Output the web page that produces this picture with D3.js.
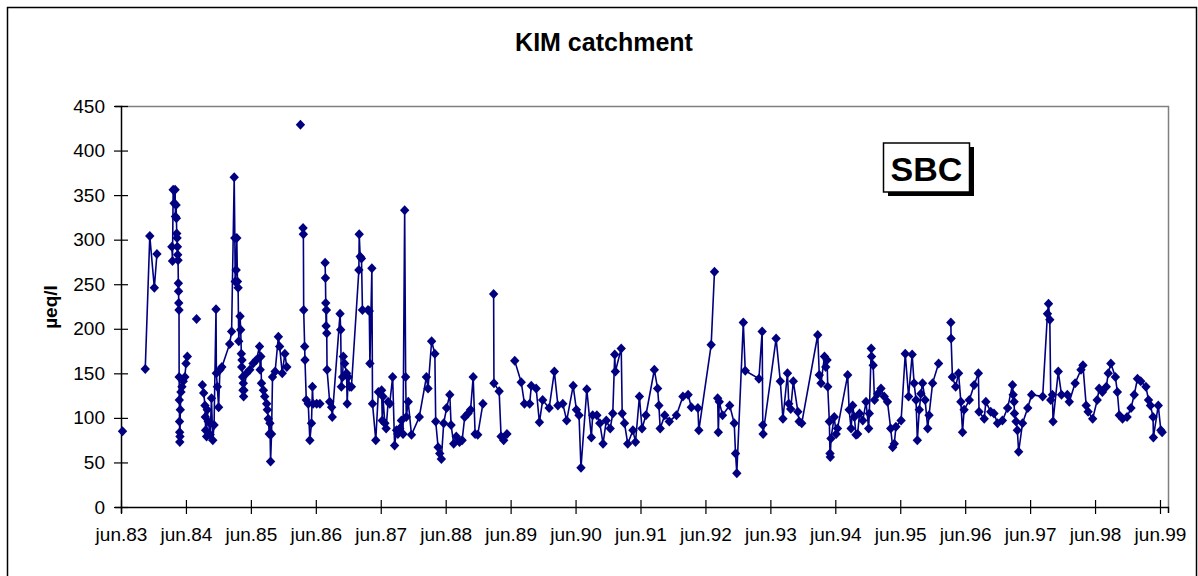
<!DOCTYPE html>
<html>
  <head>
    <meta charset="utf-8">
    <style>
      body {
        margin: 0;
        background-color: white;
      }
      text {
        font-family: "Liberation Sans", Arial, sans-serif;
      }
    </style>
    <script src="https://d3js.org/d3.v7.min.js"></script>
  </head>
  <body>
    <script>
    var width = 1198;
    var height = 576;

    var title = "KIM catchment";
    var yLabel = "µeq/l";
    var seriesName = "SBC";
    var yTicks = [0, 50, 100, 150, 200, 250, 300, 350, 400, 450];
    var xTickYears = [1983, 1984, 1985, 1986, 1987, 1988, 1989, 1990, 1991,
                      1992, 1993, 1994, 1995, 1996, 1997, 1998, 1999];

    // sample dates as decimal years, null = break in the line
    var dates = [
      1983.44, null, 1983.79, 1983.86, 1983.93, 1983.97, null,
      1984.200, 1984.210, 1984.220, 1984.235, 1984.250, 1984.255, 1984.265, 1984.270, 1984.275, 1984.280,
      1984.285, 1984.290, 1984.295, 1984.300, 1984.303, 1984.306, 1984.310, 1984.312, 1984.315, 1984.318,
      1984.320, 1984.322, 1984.325, 1984.330, 1984.340, 1984.355, 1984.375, 1984.400, 1984.418, 1984.438,
      null, 1984.58, null,
      1984.67, 1984.69, 1984.71, 1984.715, 1984.72, 1984.735, 1984.745, 1984.76, 1984.79, 1984.81,
      1984.83, 1984.85, 1984.88, 1984.885, 1984.90, 1984.92, 1984.94, 1984.97, 1985.09, 1985.12,
      1985.16, 1985.17, 1985.175, 1985.19, 1985.20, 1985.21, 1985.22, 1985.23, 1985.25, 1985.26,
      1985.27, 1985.275, 1985.28, 1985.29, 1985.295, 1985.30, 1985.305, 1985.31, 1985.35, 1985.40,
      1985.45, 1985.50, 1985.55, 1985.56, 1985.57, 1985.58, 1985.61, 1985.63, 1985.66, 1985.67,
      1985.685, 1985.70, 1985.71, 1985.72, 1985.735, 1985.75, 1985.79, 1985.84, 1985.86, 1985.90,
      1985.94, 1985.97, null, 1986.18, null,
      1986.22, 1986.225, 1986.23, 1986.245, 1986.25, 1986.27, 1986.30, 1986.325, 1986.35, 1986.365,
      1986.375, 1986.43, 1986.48, null,
      1986.56, 1986.565, 1986.57, 1986.575, 1986.58, 1986.585, 1986.59, 1986.63, 1986.66, 1986.67,
      1986.79, 1986.80, 1986.81, 1986.83, 1986.84, 1986.86, 1986.89, 1986.90, 1986.915, 1986.94,
      1986.965, 1987.08, 1987.085, 1987.10, 1987.12, 1987.135, 1987.22, 1987.24, 1987.25, 1987.28,
      1987.29, 1987.34, 1987.38, 1987.43, 1987.44, 1987.45, 1987.48, 1987.50, 1987.53, 1987.555,
      1987.60, 1987.63, 1987.66, 1987.68, 1987.71, 1987.735, 1987.76, 1987.785, 1987.80, 1987.81,
      1987.84, 1987.89, 1988.01, 1988.12, 1988.145, 1988.20, 1988.25, 1988.263, 1988.30, 1988.325,
      1988.35, 1988.386, 1988.43, 1988.48, 1988.50, 1988.54, 1988.58, 1988.63, 1988.67, 1988.71,
      1988.76, 1988.80, 1988.84, 1988.87, 1988.91, 1988.99, null,
      1989.155, 1989.16, 1989.24, 1989.27, 1989.31, 1989.36, null,
      1989.48, 1989.58, 1989.63, 1989.71, 1989.735, 1989.81, 1989.86, 1989.91, 1990.01, 1990.09,
      1990.145, 1990.22, 1990.28, 1990.38, 1990.43, 1990.47, 1990.50, 1990.59, 1990.66, 1990.68,
      1990.745, 1990.79, 1990.84, 1990.89, 1990.95, 1990.99, 1991.02, 1991.03, 1991.12, 1991.135,
      1991.17, 1991.22, 1991.30, 1991.34, 1991.40, 1991.44, 1991.50, 1991.63, 1991.68, 1991.70,
      1991.72, 1991.79, 1991.86, 1991.97, 1992.07, 1992.15, 1992.20, 1992.30, 1992.315, 1992.505,
      1992.556, null,
      1992.605, 1992.615, 1992.63, 1992.68, 1992.79, 1992.86, 1992.88, 1992.90, 1993.00, 1993.03,
      1993.24, 1993.29, 1993.30, 1993.305, 1993.505, 1993.57, 1993.61, 1993.68, 1993.70, 1993.73,
      1993.77, 1993.84, 1993.86, 1993.90, 1994.146, 1994.17, 1994.197, 1994.25, 1994.27, 1994.29,
      1994.30, 1994.325, 1994.335, 1994.34, 1994.35, 1994.40, 1994.43, 1994.45, 1994.607, 1994.63,
      1994.66, 1994.684, 1994.71, 1994.735, 1994.76, 1994.79, 1994.84, 1994.89, 1994.93, 1994.94,
      1994.97, 1994.975, 1995.00, 1995.02, 1995.07, 1995.12, 1995.17, 1995.22, 1995.27, 1995.30,
      1995.325, 1995.35, 1995.43, 1995.494, 1995.545, 1995.60, 1995.63, 1995.66, 1995.68, 1995.71,
      1995.735, 1995.76, 1995.80, 1995.84, 1995.86, 1995.915, 1996.007, null,
      1996.196, 1996.20, 1996.22, 1996.27, 1996.315, 1996.35, 1996.376, 1996.40, 1996.48, 1996.555,
      1996.62, 1996.63, 1996.71, 1996.735, 1996.81, 1996.86, 1996.915, 1996.99, 1997.07, 1997.145,
      1997.155, 1997.17, 1997.175, 1997.20, 1997.22, 1997.24, 1997.30, 1997.38, 1997.44, 1997.61,
      1997.684, 1997.70, 1997.72, 1997.735, 1997.76, 1997.77, 1997.85, 1997.90, 1997.99, 1998.02,
      1998.11, 1998.20, 1998.23, 1998.28, 1998.31, 1998.38, 1998.45, 1998.48, 1998.53, 1998.59,
      1998.62, 1998.66, 1998.73, 1998.76, 1998.79, 1998.84, 1998.91, 1998.97, 1999.02, 1999.07,
      1999.12, 1999.20, 1999.24, 1999.27, 1999.31, 1999.315, 1999.39, 1999.43, 1999.45
    ];

    // SBC in µeq/l, same order as dates
    var sbc = [
      85, null, 155, 304, 246, 284, null,
      292, 276, 356, 341, 356, 326, 339, 324, 307, 302,
      292, 283, 277, 251, 242, 229, 221, 146, 120, 96,
      84, 73, 79, 109, 129, 135, 141, 146, 161, 169,
      null, 211, null,
      137, 128, 114, 101, 86, 79, 109, 96, 81, 122,
      75, 92, 222, 150, 135, 112, 154, 157, 183, 197,
      370, 302, 253, 266, 302, 253, 246, 186, 214, 199,
      172, 157, 165, 146, 131, 139, 124, 131, 150, 154,
      161, 165, 180, 154, 169, 139, 131, 124, 116, 109,
      99, 82, 94, 51, 82, 146, 152, 191, 180, 150,
      172, 157, null, 429, null,
      313, 306, 221, 180, 165, 120, 116, 75, 94, 135,
      116, 116, 116, null,
      274, 257, 229, 203, 221, 195, 154, 118, 112, 101,
      217, 199, 135, 146, 169, 161, 150, 116, 146, 135,
      135, 266, 306, 281, 279, 221, 221, 220, 161, 268,
      116, 75, 129, 131, 97, 124, 94, 88, 118, 116,
      146, 69, 86, 82, 88, 97, 82, 333, 146, 101,
      118, 81, 101, 146, 133, 186, 172, 96, 67, 60,
      54, 94, 111, 126, 92, 71, 79, 73, 75, 101,
      105, 109, 146, 82, 81, 116, null,
      239, 139, 130, 79, 75, 82, null,
      164, 140, 116, 116, 136, 133, 95, 120, 111, 152,
      114, 116, 97, 136, 109, 103, 44, 132, 78, 103,
      103, 94, 71, 97, 88, 105, 171, 152, 178, 105,
      94, 71, 86, 73, 124, 88, 103, 154, 133, 114,
      88, 103, 96, 103, 124, 126, 112, 111, 86, 182,
      264, null,
      122, 84, 118, 103, 114, 94, 60, 38, 207, 153,
      144, 197, 92, 82, 189, 141, 99, 150, 116, 110,
      141, 107, 96, 94, 193, 148, 139, 169, 157, 165,
      135, 96, 60, 56, 77, 101, 82, 88, 148, 109,
      88, 114, 101, 81, 82, 105, 97, 118, 88, 105,
      178, 169, 159, 120, 127, 133, 124, 118, 88, 67,
      71, 90, 97, 172, 124, 171, 139, 120, 75, 109,
      127, 139, 120, 88, 103, 139, 161, null,
      207, 189, 146, 135, 150, 118, 84, 109, 120, 137,
      150, 107, 99, 118, 107, 105, 94, 97, 111, 137,
      126, 118, 105, 96, 86, 62, 94, 111, 126, 124,
      217, 228, 210, 120, 126, 96, 152, 126, 126, 118,
      139, 154, 159, 114, 107, 99, 120, 133, 129, 135,
      150, 161, 146, 129, 103, 99, 101, 111, 126, 144,
      141, 135, 120, 114, 101, 78, 114, 86, 84
    ];

    var data = dates.map(function(t, i) { return {t: t, v: sbc[i]}; });

    // plot area
    var plotLeft = 121, plotRight = 1168, plotTop = 106, plotBottom = 507;
    var navy = "#000080";

    var xScale = d3.scaleLinear()
      .domain([1983 + 5 / 12, 1999.54])
      .range([plotLeft, plotRight]);
    var yScale = d3.scaleLinear()
      .domain([0, 450])
      .range([plotBottom, plotTop]);

    var svg = d3.select("body").append("svg")
      .attr("width", width)
      .attr("height", height);

    // outer chart frame
    svg.append("rect")
      .attr("x", 7.5)
      .attr("y", 7.5)
      .attr("width", 1189)
      .attr("height", 600)
      .attr("fill", "white")
      .attr("stroke", "black")
      .attr("stroke-width", 1.5);

    // grey plot border (top and right)
    svg.append("path")
      .attr("d", "M" + plotLeft + "," + (plotTop + 0.5) + "H" + (plotRight + 0.5) + "V" + plotBottom)
      .attr("fill", "none")
      .attr("stroke", "#808080")
      .attr("stroke-width", 1.5);

    svg.append("text")
      .attr("x", 604)
      .attr("y", 51)
      .attr("text-anchor", "middle")
      .attr("font-size", "25px")
      .attr("font-weight", "bold")
      .text(title);

    // y axis
    var yAxis = svg.append("g")
      .attr("transform", "translate(" + plotLeft + ",0)")
      .call(d3.axisLeft(yScale).tickValues(yTicks).tickSize(6));
    yAxis.select(".domain").attr("stroke", "black").attr("stroke-width", 1.5);
    yAxis.selectAll(".tick line").attr("x1", -7).attr("x2", 7).attr("stroke-width", 1.2);
    yAxis.selectAll(".tick text")
      .attr("x", -16)
      .attr("font-size", "19px")
      .attr("font-family", "Liberation Sans, Arial, sans-serif")
      .attr("fill", "black");

    // x axis, tick every june
    var xAxis = svg.append("g")
      .attr("transform", "translate(0," + plotBottom + ")")
      .call(d3.axisBottom(xScale)
        .tickValues(xTickYears.map(function(y) { return y + 5 / 12; }))
        .tickFormat(function(d) { return "jun." + String(Math.round(d - 5 / 12)).slice(2); })
        .tickSize(6));
    xAxis.select(".domain").attr("stroke", "black").attr("stroke-width", 1.5);
    xAxis.selectAll(".tick line").attr("y1", -7).attr("y2", 7).attr("stroke-width", 1.2);
    xAxis.selectAll(".tick text")
      .attr("y", 21)
      .attr("font-size", "19px")
      .attr("font-family", "Liberation Sans, Arial, sans-serif")
      .attr("fill", "black");

    svg.append("text")
      .attr("transform", "translate(57,307) rotate(-90)")
      .attr("text-anchor", "middle")
      .attr("font-size", "19px")
      .attr("font-weight", "bold")
      .text(yLabel);

    // series line, broken where there are gaps
    var line = d3.line()
      .defined(function(d) { return d.v !== null; })
      .x(function(d) { return xScale(d.t); })
      .y(function(d) { return yScale(d.v); });

    svg.append("path")
      .datum(data)
      .attr("d", line)
      .attr("fill", "none")
      .attr("stroke", navy)
      .attr("stroke-width", 1.6);

    var diamond = "M0,-5L4.7,0L0,5L-4.7,0Z";
    svg.append("g")
      .selectAll("path")
      .data(data.filter(function(d) { return d.v !== null; }))
      .enter().append("path")
      .attr("d", diamond)
      .attr("transform", function(d) { return "translate(" + xScale(d.t) + "," + yScale(d.v) + ")"; })
      .attr("fill", navy);

    // legend label box with drop shadow
    svg.append("rect")
      .attr("x", 888)
      .attr("y", 147)
      .attr("width", 86)
      .attr("height", 49)
      .attr("fill", "black");
    svg.append("rect")
      .attr("x", 883.5)
      .attr("y", 143)
      .attr("width", 86)
      .attr("height", 49)
      .attr("fill", "white")
      .attr("stroke", "black")
      .attr("stroke-width", 1.5);
    svg.append("text")
      .attr("x", 926.5)
      .attr("y", 181)
      .attr("text-anchor", "middle")
      .attr("font-size", "34px")
      .attr("font-weight", "bold")
      .text(seriesName);
    </script>
  </body>
</html>
